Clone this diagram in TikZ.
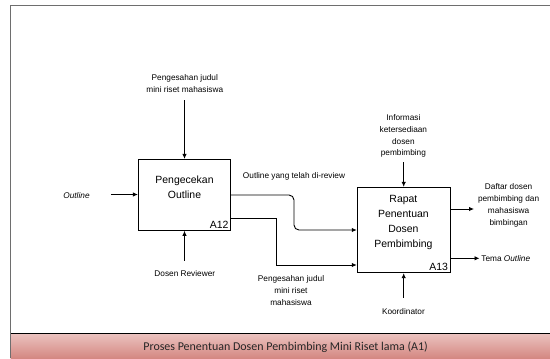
\documentclass[tikz,border=0pt]{standalone}
\usepackage{fontspec}
\setmainfont{Liberation Sans}
\newfontfamily\footerfont{Carlito}
\usetikzlibrary{arrows.meta}
\definecolor{framegray}{RGB}{110,110,110}
\definecolor{bandtop}{RGB}{236,196,193}
\definecolor{bandbot}{RGB}{212,136,130}
\tikzset{
  actbox/.style={draw=black, line width=0.9bp, minimum width=92.4bp, inner sep=0},
  boxtext/.style={font=\fontsize{10.5}{15}\selectfont, align=center, inner sep=0},
  lbl/.style={font=\fontsize{8.3}{12}\selectfont, align=center, inner sep=0},
  arr/.style={line width=0.9bp, -{Latex[length=5bp,width=4.5bp]}},
}
\begin{document}
\begin{tikzpicture}[x=1bp,y=-1bp]
\useasboundingbox (0,0) rectangle (550,358);

% page frame
\draw[framegray, line width=1bp] (10.7,358) -- (10.7,5.7) -- (551,5.7);

% footer band
\shade[top color=bandtop, bottom color=bandbot] (10.7,333) rectangle (551,358);
\draw[black, line width=0.9bp] (10.7,333) -- (551,333);
\draw[framegray, line width=1bp] (10.7,333) -- (10.7,358);
\node[inner sep=0, font=\footerfont\fontsize{12}{14}\selectfont, text=black!85] (footer) at (285.6,347.5)
  {Proses Penentuan Dosen Pembimbing Mini Riset lama (A1)};

% activity boxes
\node[actbox, minimum height=71bp] (a12) at (184.5,194.8) {};
\node[actbox, minimum width=93bp, minimum height=85.4bp] (a13) at (403.7,230) {};

\node[boxtext] (a12t) at (184.5,187.3) {Pengecekan\\Outline};
\node[boxtext, anchor=south east] (a12n) at ([xshift=-2.5bp,yshift=2bp]a12.south east) {A12};
\node[boxtext] (a13t) at (403.4,222.5) {Rapat\\Penentuan\\Dosen\\Pembimbing};
\node[boxtext, anchor=south east] (a13n) at ([xshift=-2.5bp,yshift=2bp]a13.south east) {A13};

% labels around A12
\node[lbl] (ctl12) at (184.8,83.5) {Pengesahan judul\\mini riset mahasiswa};
\node[lbl, font=\fontsize{8.3}{12}\selectfont\itshape] (in12) at (76.5,195.3) {Outline};
\node[lbl] (mech12) at (184.8,274) {Dosen Reviewer};
\coordinate (ctl12e) at (184.5,100);
\coordinate (in12e) at (110.8,194.5);
\coordinate (mech12e) at (184.5,260.7);

\draw[arr] (ctl12e) -- (a12.north);
\draw[arr] (in12e) -- (in12e -| a12.west);
\draw[arr] (mech12e) -- (a12.south);

% labels around A13
\node[lbl] (ctl13) at (403.4,135.9) {Informasi\\ketersediaan\\dosen\\pembimbing};
\node[lbl] (mech13) at (403.4,311.7) {Koordinator};
\node[lbl] (out1) at (508.6,205.7) {Daftar dosen\\pembimbing dan\\mahasiswa\\bimbingan};
\node[lbl, anchor=west] (out2) at (481.2,258.3) {Tema \textit{Outline}};
\coordinate (ctl13e) at (403.7,162.3);
\coordinate (mech13e) at (403.7,297.7);
\coordinate (out1e) at (474,209);
\coordinate (out2e) at (479.5,258.3);

\draw[arr] (ctl13e) -- (a13.north);
\draw[arr] (mech13e) -- (a13.south);
\draw[arr] (out1e -| a13.east) -- (out1e);
\draw[arr] (out2e -| a13.east) -- (out2e);

% flows between the two activities
\node[lbl] (flow1) at (294,176.7) {Outline yang telah di-review};
\node[lbl] (flow2) at (291,290.5) {Pengesahan judul\\mini riset\\mahasiswa};

\draw[arr, rounded corners=5bp] (a12.east |- 0,195) -- (294,195) -- (294,230) -- (a13.west |- 0,230);
\draw[arr] (a12.east |- 0,218.3) -- (276.7,218.3) -- (276.7,265) -- (a13.west |- 0,265);
\end{tikzpicture}
\end{document}
